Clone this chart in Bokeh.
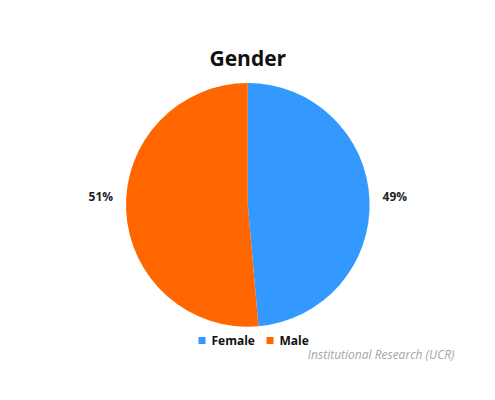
import math
from bokeh.plotting import figure
from bokeh.models import Range1d
from bokeh.core.properties import value
from bokeh.embed import file_html
from bokeh.resources import INLINE

# data
categories = ["Female", "Male"]
shares = [48.6, 51.4]
colors = ["#3399FF", "#FF6600"]
title_text = "Gender"
footer_text = "Institutional Research (UCR)"

W, H = 479, 384
p = figure(width=W, height=H, output_backend="svg", toolbar_location=None,
           x_range=Range1d(0, W), y_range=Range1d(0, H), min_border=0)
p.axis.visible = False
p.grid.visible = False
p.outline_line_color = None
p.background_fill_color = "white"
p.border_fill_color = "white"

cx, cy, r = 247.3, H - 204.4, 121.8

total = sum(shares)
# start at top, go clockwise
start = math.pi / 2
for cat, v, c in zip(categories, shares, colors):
    sweep = 2 * math.pi * v / total
    end = start - sweep
    p.wedge(x=[cx], y=[cy], radius=r, start_angle=[end], end_angle=[start],
            fill_color=c, line_color=None)
    start = end

# percentage labels (outside, right then left)
pct = [f"{round(v)}%" for v in shares]
p.text(x=[cx + 147, cx - 147], y=[cy + 8, cy + 8], text=pct,
       text_font=value("Open Sans"), text_font_style="bold", text_font_size="12px",
       text_color="#222222", text_align="center", text_baseline="middle")

# title
p.text(x=[cx], y=[H - 57], text=[title_text], text_font=value("Open Sans"),
       text_font_style="bold", text_font_size="21px", text_color="#111111",
       text_align="center", text_baseline="middle")

# legend
leg_y = H - 340
p.rect(x=[201.5, 269.5], y=[leg_y, leg_y], width=7, height=7,
       fill_color=colors, line_color=None)
p.text(x=[211, 279], y=[leg_y, leg_y], text=categories,
       text_font=value("Open Sans"), text_font_style="bold", text_font_size="12px",
       text_color="#111111", text_align="left", text_baseline="middle")

# footer
p.text(x=[454], y=[H - 354], text=[footer_text], text_font=value("Open Sans"),
       text_font_style="italic", text_font_size="12px", text_color="#A6A6A6",
       text_align="right", text_baseline="middle")

open("out.html", "w").write(file_html(p, INLINE))
